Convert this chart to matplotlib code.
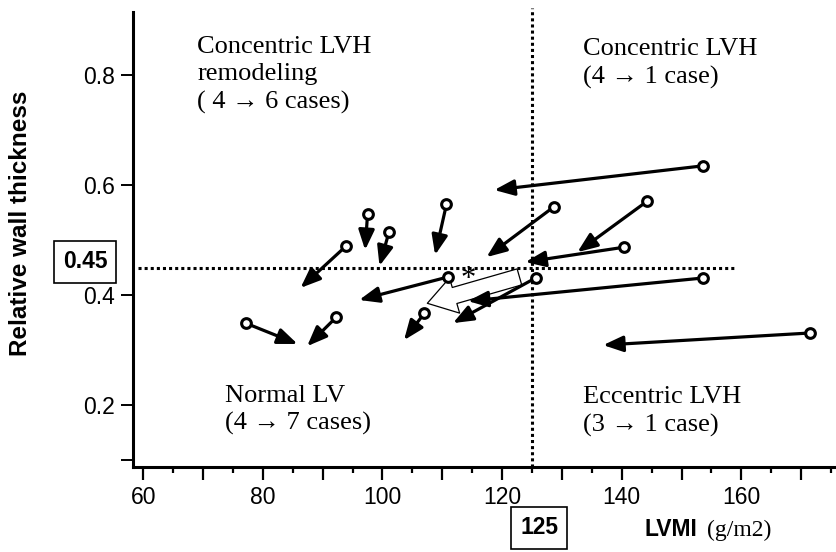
import numpy as np
import matplotlib.pyplot as plt

# -> LVMI (g/m2) and relative wall thickness, before -> after
lvmi_before = [153.6, 144.3, 140.4, 128.6, 110.7, 97.5, 101.1, 93.9, 77.1, 92.3, 111.0, 107.0, 125.6, 153.6, 171.5]
rwt_before = [0.635, 0.571, 0.487, 0.560, 0.565, 0.547, 0.515, 0.489, 0.349, 0.360, 0.433, 0.367, 0.431, 0.431, 0.331]
lvmi_after = [118.7, 132.6, 123.9, 117.4, 108.8, 97.1, 99.5, 86.3, 85.8, 87.4, 96.1, 103.6, 111.8, 114.3, 136.9]
rwt_after = [0.591, 0.478, 0.460, 0.469, 0.473, 0.482, 0.453, 0.413, 0.311, 0.307, 0.391, 0.318, 0.349, 0.389, 0.309]

# -> mean change (hollow arrow)
mean_before = (122.9, 0.433)
mean_after = (107.5, 0.385)

lvmi_cut = 125
rwt_cut = 0.45

quadrant_labels = [
    (69.0, 0.871, "Concentric LVH\nremodeling\n( 4 \u2192 6 cases)"),
    (133.6, 0.867, "Concentric LVH\n(4 \u2192 1 case)"),
    (73.7, 0.237, "Normal LV\n(4 \u2192 7 cases)"),
    (133.6, 0.234, "Eccentric LVH\n(3 \u2192 1 case)"),
]

SANS = ['Liberation Sans', 'DejaVu Sans']
SERIF = ['Liberation Serif', 'DejaVu Serif']


def figureSettings():
    fig = plt.figure(figsize=(8.37, 5.52), dpi=100)
    ax = fig.add_axes([0.159, 0.154, 0.841, 0.824])

    ax.set_xlim(58.3, 176.0)
    ax.set_ylim(0.0873, 0.9145)

    for side in ['top', 'right']:
        ax.spines[side].set_visible(False)
    for side in ['left', 'bottom']:
        ax.spines[side].set_linewidth(2.2)

    # -> x ticks: every 5, longer every 10, labels every 20
    ax.set_xticks(np.arange(60, 171, 10))
    ax.set_xticklabels([str(v) if v % 20 == 0 else "" for v in range(60, 171, 10)])
    ax.set_xticks(np.arange(65, 176, 10), minor=True)
    ax.tick_params(axis='x', which='major', length=9, width=1.6, pad=5)
    ax.tick_params(axis='x', which='minor', length=4, width=1.6)

    ax.set_yticks([0.1, 0.2, 0.4, 0.6, 0.8])
    ax.set_yticklabels(["", "0.2", "0.4", "0.6", "0.8"])
    ax.tick_params(axis='y', which='major', length=9, width=1.4, pad=4)

    for lab in ax.get_xticklabels() + ax.get_yticklabels():
        lab.set_family(SANS)
        lab.set_fontsize(16.5)

    fig.text(21 / 837, 1 - 223 / 552, "Relative wall thickness", rotation=90,
             ha='center', va='center', family=SANS, fontsize=17.5, fontweight='bold')
    fig.text(645 / 837, 1 - 530 / 552, "LVMI", ha='left', va='center',
             family=SANS, fontsize=16.5, fontweight='bold')
    fig.text(707 / 837, 1 - 530 / 552, "(g/m2)", ha='left', va='center',
             family=SERIF, fontsize=17)

    box = dict(boxstyle='square,pad=0.4', fc='white', ec='black', lw=1.2)
    fig.text(85 / 837, 1 - 262 / 552, "0.45", ha='center', va='center',
             family=SANS, fontsize=16.5, fontweight='bold', bbox=box)
    fig.text(539 / 837, 1 - 528 / 552, "125", ha='center', va='center',
             family=SANS, fontsize=16.5, fontweight='bold', bbox=box)
    return fig, ax


def plotChange(ax):
    # -> cut-off lines
    ax.plot([59.2, 159.0], [rwt_cut, rwt_cut], color='black', lw=2.2,
            linestyle=(0, (1, 1)), zorder=1)
    ax.plot([lvmi_cut, lvmi_cut], [0.0873, 0.922], color='black', lw=2.2,
            linestyle=(0, (1, 1)), zorder=1, clip_on=False)

    for x0, y0, x1, y1 in zip(lvmi_before, rwt_before, lvmi_after, rwt_after):
        ax.annotate("", xy=(x1, y1), xytext=(x0, y0),
                    arrowprops=dict(arrowstyle='-|>,head_length=0.6,head_width=0.24',
                                    mutation_scale=20, lw=2.3, color='black',
                                    shrinkA=3, shrinkB=0), zorder=3)
    ax.plot(lvmi_before, rwt_before, 'o', ms=7, mfc='white', mec='black', mew=2.2, zorder=4)

    ax.annotate("", xy=mean_after, xytext=mean_before,
                arrowprops=dict(arrowstyle='simple,head_length=0.85,head_width=1.1,tail_width=0.5',
                                mutation_scale=24, fc='white', ec='black', lw=0.9,
                                shrinkA=0, shrinkB=0), zorder=2)
    ax.text(114.3, 0.428, "*", ha='center', va='center', fontsize=22, family=SERIF)

    for x, y, txt in quadrant_labels:
        ax.text(x, y, txt, ha='left', va='top', family=SERIF, fontsize=19,
                linespacing=1.3)


def main():
    fig, ax = figureSettings()
    plotChange(ax)
    fig.savefig("out.png", dpi=100)


if __name__ == "__main__":
    main()
